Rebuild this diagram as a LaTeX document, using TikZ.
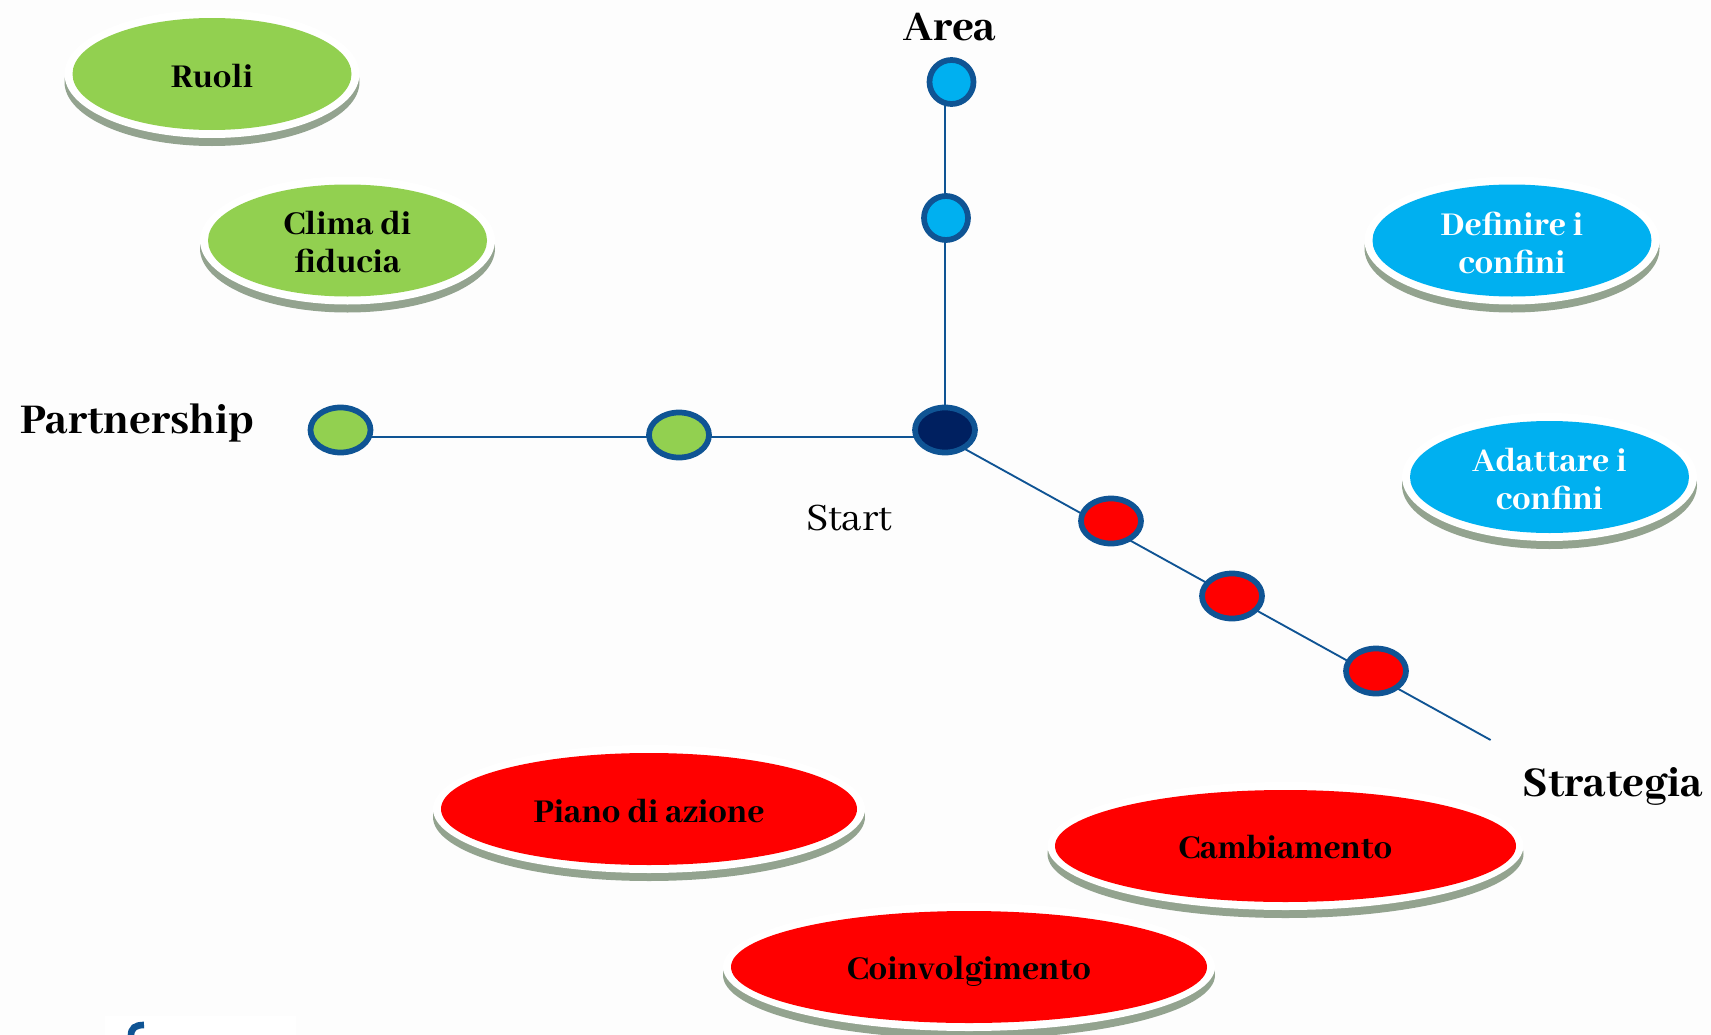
\documentclass[tikz,border=0pt]{standalone}
\usepackage{fontspec}
\setmainfont{Abhaya Libre}[BoldFont={Abhaya Libre ExtraBold}]
\usetikzlibrary{backgrounds,shapes.geometric}
\definecolor{pageBg}{HTML}{FDFDFD}
\definecolor{shadowC}{HTML}{93A38F}
\definecolor{leafGreen}{HTML}{92D050}
\definecolor{leafBlue}{HTML}{00B0F0}
\definecolor{leafRed}{HTML}{FF0000}
\definecolor{ringBlue}{HTML}{0F5494}
\definecolor{coreNavy}{HTML}{002060}
\tikzset{
  x=0.75pt,y=-0.75pt,
  lbl/.style={inner sep=0pt,align=center,font=\bfseries\fontsize{27.5}{28.5}\selectfont,text=black},
  disc/.style={ellipse,inner sep=0pt,minimum height=84pt},
  axislbl/.style={inner sep=0pt,font=\bfseries\fontsize{35}{38}\selectfont,text=black},
  dot/.style={draw=ringBlue,line width=4.3pt,ellipse,inner sep=0pt},
  wide dot/.style={dot,minimum width=45pt,minimum height=33.75pt},
  round dot/.style={dot,minimum width=33pt,minimum height=33pt},
  axis/.style={draw=ringBlue,line width=1.4pt},
}
\begin{document}
\begin{tikzpicture}
\path[use as bounding box] (0,0) rectangle (1711,1035);
\begin{scope}[on background layer]
\fill[pageBg] (0,0) rectangle (1711,1035);
\end{scope}
% discs
\fill[shadowC] (212,82) ellipse [x radius=147.5,y radius=64];
\fill[white] (212,74) ellipse [x radius=147.5,y radius=64];
\node[disc,fill=leafGreen,minimum width=209.25pt,label={[lbl,yshift=-1.5pt]center:Ruoli}] (ruoli) at (212,74) {};

\fill[shadowC] (347.5,248.5) ellipse [x radius=147.5,y radius=64];
\fill[white] (347.5,240.5) ellipse [x radius=147.5,y radius=64];
\node[disc,fill=leafGreen,minimum width=209.25pt,label={[lbl,yshift=-1.5pt]center:Clima di\\fiducia}] (clima) at (347.5,240.5) {};

\fill[shadowC] (1512,248.5) ellipse [x radius=147.5,y radius=64];
\fill[white] (1512,240.5) ellipse [x radius=147.5,y radius=64];
\node[disc,fill=leafBlue,minimum width=209.25pt,label={[lbl,text=white,yshift=-1.5pt]center:Definire i\\confini}] (definire) at (1512,240.5) {};

\fill[shadowC] (1549.5,485) ellipse [x radius=147.5,y radius=64];
\fill[white] (1549.5,477) ellipse [x radius=147.5,y radius=64];
\node[disc,fill=leafBlue,minimum width=209.25pt,label={[lbl,text=white,yshift=-1.5pt]center:Adattare i\\confini}] (adattare) at (1549.5,477) {};

\fill[shadowC] (649,817) ellipse [x radius=216,y radius=64];
\fill[white] (649,809) ellipse [x radius=216,y radius=64];
\node[disc,fill=leafRed,minimum width=312pt,label={[lbl,yshift=-1.5pt]center:Piano di azione}] (piano) at (649,809) {};

\fill[shadowC] (1285.5,854) ellipse [x radius=238,y radius=64];
\fill[white] (1285.5,846) ellipse [x radius=238,y radius=64];
\node[disc,fill=leafRed,minimum width=345.75pt,label={[lbl,yshift=-1pt]center:Cambiamento}] (cambio) at (1285.5,846) {};

\fill[shadowC] (969,975) ellipse [x radius=246,y radius=64];
\fill[white] (969,967) ellipse [x radius=246,y radius=64];
\node[disc,fill=leafRed,minimum width=357pt,label={[lbl,yshift=-3pt]center:Coinvolgimento}] (coinv) at (969,967) {};

% graph nodes
\node[wide dot,fill=coreNavy] (start) at (945,430) {};
\node[round dot,fill=leafBlue] (b1) at (951.5,82) {};
\node[round dot,fill=leafBlue] (b2) at (946,218) {};
\node[wide dot,fill=leafGreen] (g1) at (340.5,430) {};
\node[wide dot,fill=leafGreen] (g2) at (679,435) {};
\node[wide dot,fill=leafRed] (r1) at (1111,521) {};
\node[wide dot,fill=leafRed] (r2) at (1232,596) {};
\node[wide dot,fill=leafRed] (r3) at (1376,671) {};
\coordinate (stratEnd) at (1490.6,740);
\begin{scope}[on background layer]
\draw[axis] ([xshift=-4.9pt]b1.center) -- (start.center);
\draw[axis] ([yshift=-5.25pt]g1.center) -- ([yshift=-5.25pt]start.center);
\draw[axis] ([yshift=-6pt]start.center) -- (stratEnd);
\end{scope}
% axis labels
\node[axislbl] (area) at (950,27) {Area};
\node[axislbl] (part) at (137,423) {Partnership};
\node[axislbl] (strategia) at (1613,786) {Strategia};
\node[inner sep=0pt,font=\fontsize{32}{36}\selectfont] (startlbl) at (849,518) {Start};
% cropped logo fragment at lower edge
\fill[white] (105,1016) rectangle (296,1035);
\draw[line width=5pt,color=ringBlue,line cap=butt] (131,1036) .. controls (131,1028) and (135,1025) .. (144,1025);
\end{tikzpicture}
\end{document}
